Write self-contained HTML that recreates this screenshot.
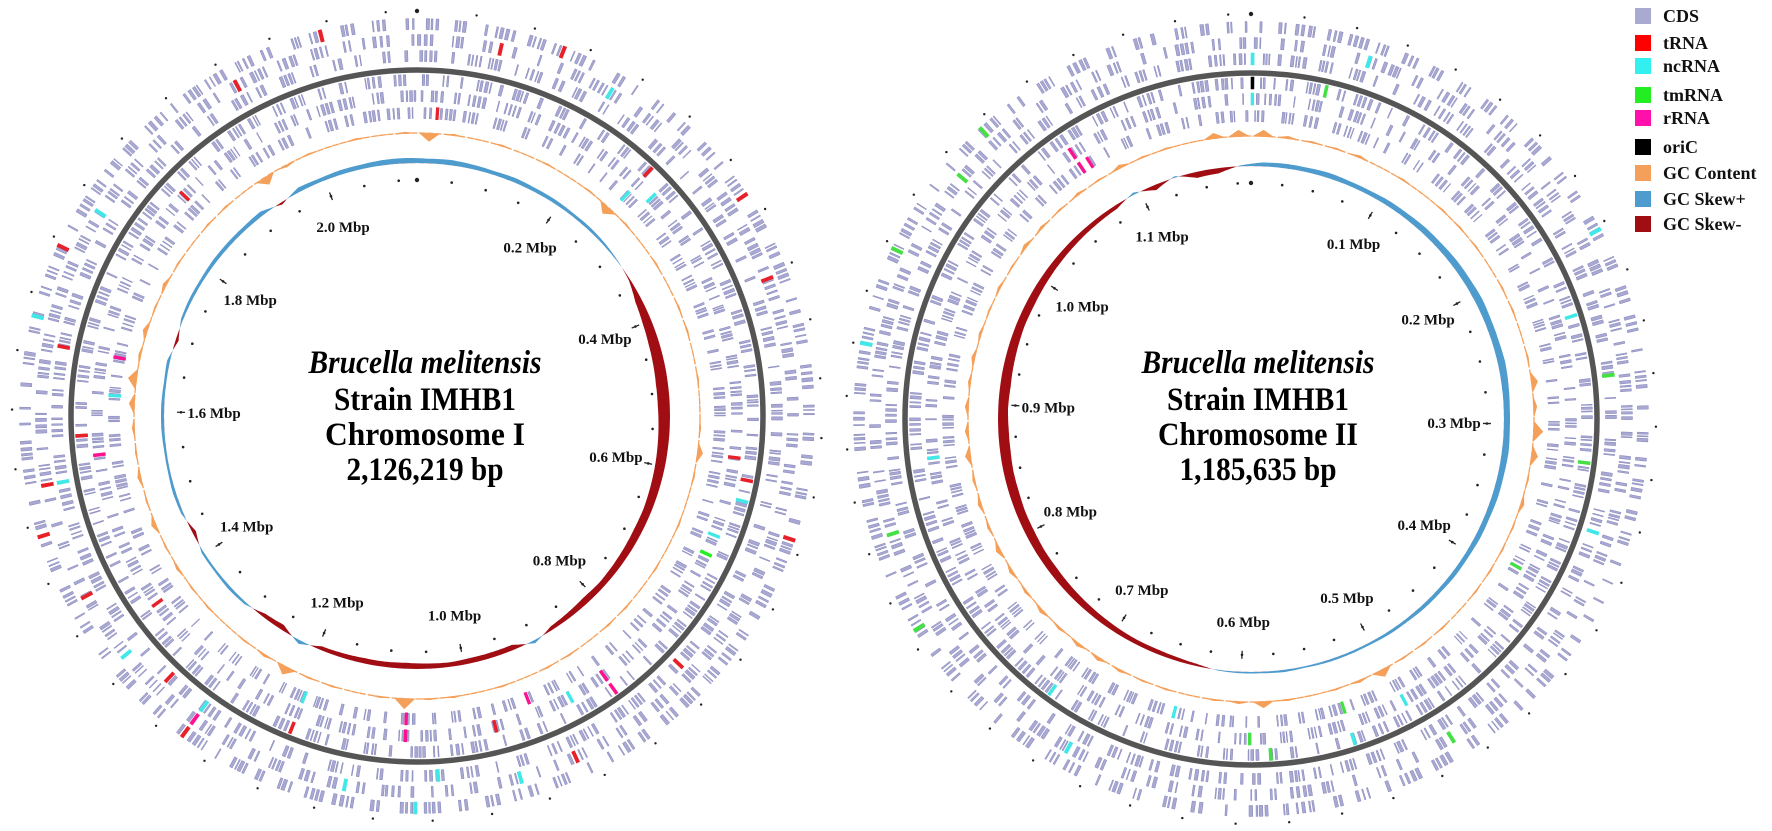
<!DOCTYPE html>
<html><head><meta charset="utf-8"><title>Brucella melitensis IMHB1 genome maps</title>
<style>
html,body{margin:0;padding:0;background:#fff;}
svg{display:block;font-family:"Liberation Serif",serif;}
</style></head>
<body>
<svg id="chart" width="1772" height="831" viewBox="0 0 1772 831" xmlns="http://www.w3.org/2000/svg">
<g id="left"></g>
<g id="right"></g>
<g id="legend"></g>
</svg>
<script>
// ---------- data ----------
const chr1Length = 2.126219;   // Mbp
const chr2Length = 1.185635;   // Mbp
const chr1Labels = ["0.2 Mbp","0.4 Mbp","0.6 Mbp","0.8 Mbp","1.0 Mbp","1.2 Mbp","1.4 Mbp","1.6 Mbp","1.8 Mbp","2.0 Mbp"];
const chr1LabelPos = [0.2,0.4,0.6,0.8,1.0,1.2,1.4,1.6,1.8,2.0];
const chr2Labels = ["0.1 Mbp","0.2 Mbp","0.3 Mbp","0.4 Mbp","0.5 Mbp","0.6 Mbp","0.7 Mbp","0.8 Mbp","0.9 Mbp","1.0 Mbp","1.1 Mbp"];
const chr2LabelPos = [0.1,0.2,0.3,0.4,0.5,0.6,0.7,0.8,0.9,1.0,1.1];
// GC skew per 5-degree bin (positive = Skew+, negative = Skew-)
const chr1Skew = [6,7,6,5,6,5,5,4,4,3,1,-2,-9,-12,-14,-15,-16,-16,-15,-14,-13,-12,-11,-11,-10,-9,-8,-9,-7,-5,4,-7,-7,-7,-6,-7,-8,-7,-7,-6,-5,5,-7,-5,3,4,3,3,-5,3,4,3,3,4,4,3,4,-4,3,4,4,5,5,5,6,-3,6,5,6,6,7,7];
const chr2Skew = [5,6,6,7,6,6,7,7,8,8,9,9,10,9,9,10,9,8,8,9,8,8,7,7,6,6,5,5,4,4,3,3,3,2,3,2,2,1,-3,-5,-6,-6,-7,-8,-9,-10,-11,-11,-12,-12,-13,-13,-14,-14,-13,-14,-13,-12,-11,-11,-10,-9,-8,-7,-6,-5,3,-7,2,-8,-7,1];
// GC content deviation per 5-degree bin (positive = outward)
const chr1GC = [-8,1,0,1,0,1,0,1,-8,1,0,1,0,1,1,0,1,0,1,5,1,0,1,0,1,0,1,1,0,1,1,0,1,0,1,1,10,1,0,1,1,8,2,1,0,1,1,2,1,4,1,3,1,2,5,8,2,4,1,3,1,0,1,1,0,-8,-2,1,0,1,0,1];
const chr2GC = [6,2,1,1,2,0,1,0,1,1,1,0,1,1,0,1,6,3,9,6,1,3,1,1,1,1,0,1,1,1,7,2,1,0,1,6,2,1,0,1,1,2,3,3,2,3,2,3,4,2,3,2,5,3,3,2,3,2,1,2,1,3,2,1,2,1,3,1,1,0,5,6];
// special features: [angle fraction, track]
const chr1tRNA = [[0.01,0],[0.035,4],[0.06,5],[0.12,2],[0.155,5],[0.19,4],[0.27,1],[0.28,2],[0.3,5],[0.37,3],[0.43,4],[0.46,1],[0.6,5],[0.62,3],[0.7,5],[0.72,4],[0.82,5],[0.56,2],[0.65,1],[0.74,2],[0.78,3],[0.67,4],[0.87,1],[0.92,4],[0.96,5]];
const chr1ncRNA = [[0.085,4],[0.12,0],[0.13,1],[0.29,2],[0.31,1],[0.42,1],[0.455,4],[0.5,5],[0.53,4],[0.49,3],[0.56,0],[0.6,3],[0.64,4],[0.72,3],[0.76,0],[0.79,5],[0.84,4]];
const chr1rRNA = [[0.4,1],[0.4,2],[0.44,0],[0.505,0],[0.505,1],[0.73,1],[0.78,0],[0.6,4]];
const chr1tmRNA = [[0.32,1]];
const chr2tRNA = [];
const chr2ncRNA = [[0.0,1],[0.0,3],[0.05,4],[0.17,5],[0.2,2],[0.3,3],[0.42,1],[0.45,2],[0.5,1],[0.54,0],[0.58,4],[0.6,2],[0.73,1],[0.78,5]];
const chr2rRNA = [[0.905,0],[0.905,1],[0.91,0]];
const chr2tmRNA = [[0.035,2],[0.23,3],[0.27,2],[0.33,0],[0.41,4],[0.45,0],[0.5,1],[0.49,2],[0.66,5],[0.7,4],[0.82,5],[0.86,4],[0.88,5]];
const chr2oriC = [[0.0,2]];
const legendLabels = ["CDS","tRNA","ncRNA","tmRNA","rRNA","oriC","GC Content","GC Skew+","GC Skew-"];
const legendColors = ["#a9a9d2","#ff0000","#33f0f0","#22ee22","#ff10aa","#000000","#f5a05a","#4e9bcd","#a00d12"];

// ---------- helpers ----------
const NS = "http://www.w3.org/2000/svg";
const RING = 346;
const SKEW_SCALE = 0.75;
const trackR = [[297,309],[314,326],[330,342],[354,366],[370,382],[386,398]];
function pt(cx,cy,r,deg){const a=deg*Math.PI/180;return [cx+r*Math.sin(a),cy-r*Math.cos(a)];}
function sector(cx,cy,r1,r2,a1,a2){
  const p1=pt(cx,cy,r1,a1),p2=pt(cx,cy,r2,a1),p3=pt(cx,cy,r2,a2),p4=pt(cx,cy,r1,a2);
  return "M"+p1[0].toFixed(1)+","+p1[1].toFixed(1)+"L"+p2[0].toFixed(1)+","+p2[1].toFixed(1)+
   "A"+r2+","+r2+" 0 0 1 "+p3[0].toFixed(1)+","+p3[1].toFixed(1)+"L"+p4[0].toFixed(1)+","+p4[1].toFixed(1)+
   "A"+r1+","+r1+" 0 0 0 "+p1[0].toFixed(1)+","+p1[1].toFixed(1)+"Z";
}
function mk(tag,attrs,parent){const e=document.createElementNS(NS,tag);for(const k in attrs)e.setAttribute(k,attrs[k]);parent.appendChild(e);return e;}

// seeded texture generator for the dense CDS tracks
let seed=12345;
function rnd(){seed=(seed*1103515245+12345)%2147483648;return seed/2147483648;}

function drawChrom(g,cx,cy,len,labels,labelPos,skew,gc,feats,minorStep,title,tx){
  // CDS tracks
  const cds=mk("g",{},g);
  
  
  for(let t=0;t<6;t++){
    let a=rnd()*2;
    while(a<359.5){
      const n=1+Math.floor(rnd()*4);
      for(let k=0;k<n&&a<359.5;k++){
        const w=0.14+rnd()*0.4;
        const p=mk("path",{d:sector(cx,cy,trackR[t][0]+0.5,trackR[t][1]-0.5,a,a+w),fill:"#a8a8d2",stroke:"#8686bc","stroke-width":"0.5"},cds);
        
        
        a+=w+0.2+rnd()*0.45;
      }
      a+=0.7+rnd()*2.4;
    }
  }
  // special features
  for(const f of feats){
    for(const item of f.list){
      const a=item[0]*360, t=item[1];
      const p=mk("path",{d:sector(cx,cy,trackR[t][0],trackR[t][1],a,a+0.5),fill:f.color,stroke:f.color,"stroke-width":"0.6"},g);
      
      
    }
  }
  // ring
  const ring=mk("circle",{cx:cx,cy:cy,r:RING,fill:"none",stroke:"#555","stroke-width":"5.5"},g);
  
  
  // GC content (spike per bin)
  const gcBase=283, nb=gc.length, bw=360/nb;
  const gl=mk("circle",{cx:cx,cy:cy,r:gcBase,fill:"none",stroke:"#f5a05a","stroke-width":"1.3","stroke-dasharray":"6 2"},g);
  
  
  let d="";
  for(let i=0;i<nb;i++){
    const a0=i*bw, am=a0+bw/2, a1=a0+bw;
    const p0=pt(cx,cy,gcBase,a0+bw*0.1), pm=pt(cx,cy,gcBase+gc[i],am), p1=pt(cx,cy,gcBase,a1-bw*0.1);
    d+="M"+p0[0].toFixed(1)+","+p0[1].toFixed(1)+"L"+pm[0].toFixed(1)+","+pm[1].toFixed(1)+"L"+p1[0].toFixed(1)+","+p1[1].toFixed(1)+"Z";
  }
  const gcp=mk("path",{d:d,fill:"#f5a05a",stroke:"#f5a05a","stroke-width":"0.8"},g);
  
  
  // GC skew
  const skBase=253, ns=skew.length;
  function skewPath(sign){
    let s="";
    for(let i=0;i<=720;i++){
      const deg=i/2; const x=deg/360*ns-0.5; const i0=Math.floor(x), fr=x-i0;
      const v0=skew[(i0+ns)%ns], v1=skew[(i0+1)%ns];
      let v=(v0*(1-fr)+v1*fr)*SKEW_SCALE;
      v = sign>0?Math.max(v,0):Math.min(v,0);
      const p=pt(cx,cy,skBase+v,deg); s+=(i?"L":"M")+p[0].toFixed(1)+","+p[1].toFixed(1);
    }
    for(let i=360;i>=0;i-=2){const p=pt(cx,cy,skBase,i);s+="L"+p[0].toFixed(1)+","+p[1].toFixed(1);}
    return s+"Z";
  }
  const sp=mk("path",{d:skewPath(1),fill:"#4e9bcd",stroke:"none"},g);
  
  
  const sn=mk("path",{d:skewPath(-1),fill:"#a00d12",stroke:"none"},g);
  
  
  // ticks
  const nt=Math.floor(len/minorStep);
  for(let i=0;i<=nt;i++){
    const deg=i*minorStep/len*360; if(deg>359) continue;
    const p=pt(cx,cy,236,deg);
    const c=mk("circle",{cx:p[0].toFixed(1),cy:p[1].toFixed(1),r:i===0?2.2:1.3,fill:"#222"},g);
    
    
    const q=pt(cx,cy,405,deg);
    const c2=mk("circle",{cx:q[0].toFixed(1),cy:q[1].toFixed(1),r:i===0?2.2:1.2,fill:"#222"},g);
    
    
  }
  for(let i=0;i<labels.length;i++){
    const deg=labelPos[i]/len*360;
    const a=pt(cx,cy,232,deg), b=pt(cx,cy,240,deg);
    const ln=mk("line",{x1:a[0],y1:a[1],x2:b[0],y2:b[1],stroke:"#222","stroke-width":"1.3"},g);
    
    
    const p=pt(cx,cy,203,deg);
    const tx2=mk("text",{x:p[0].toFixed(1),y:(p[1]+5).toFixed(1),"text-anchor":"middle","font-size":"15","font-weight":"bold",fill:"#111"},g);
    tx2.textContent=labels[i];
    
    
  }
  // title
  const lines=[["Brucella melitensis",373,233,"italic"],["Strain IMHB1",410,182,"normal"],[title[0],445,title[1],"normal"],[title[2],480,157,"normal"]];
  for(const L of lines){
    const t=mk("text",{x:tx,y:L[1],"text-anchor":"middle","font-size":"33","font-weight":"bold","font-style":L[3],textLength:L[2],lengthAdjust:"spacingAndGlyphs",fill:"#000"},g);
    t.textContent=L[0];
    
    
  }
}

drawChrom(document.getElementById("left"),417,416,chr1Length,chr1Labels,chr1LabelPos,chr1Skew,chr1GC,
  [{list:chr1tRNA,color:"#e8202a",name:"trna"},{list:chr1ncRNA,color:"#40e8e8",name:"ncrna"},{list:chr1rRNA,color:"#ff1090",name:"rrna"},{list:chr1tmRNA,color:"#22ee22",name:"tmrna"}],
  0.05,["Chromosome I",200,"2,126,219 bp"],425);
drawChrom(document.getElementById("right"),1251,419,chr2Length,chr2Labels,chr2LabelPos,chr2Skew,chr2GC,
  [{list:chr2tRNA,color:"#e8202a",name:"trna"},{list:chr2ncRNA,color:"#40e8e8",name:"ncrna"},{list:chr2rRNA,color:"#ff1090",name:"rrna"},{list:chr2tmRNA,color:"#44e044",name:"tmrna"},{list:chr2oriC,color:"#000",name:"oric"}],
  0.025,["Chromosome II",200,"1,185,635 bp"],1258);

// legend
const lg=document.getElementById("legend");
const rows=[16,43,66,95,118,147,173,199,224];
for(let i=0;i<legendLabels.length;i++){
  const r=mk("rect",{x:1635,y:rows[i]-8,width:16,height:16,fill:legendColors[i]},lg);
  
  
  const t=mk("text",{x:1663,y:rows[i]+6,"font-size":"18","font-weight":"bold",fill:"#111"},lg);
  t.textContent=legendLabels[i];
  
  
}
</script>
</body></html>
